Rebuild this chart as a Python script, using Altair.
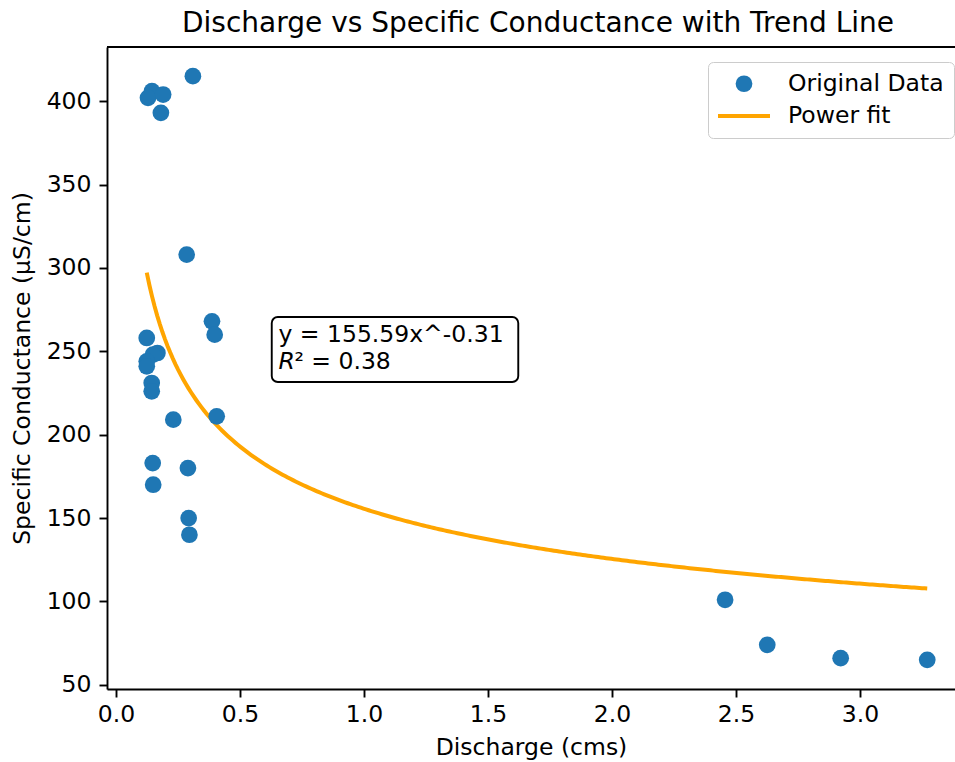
import altair as alt
import numpy as np
import pandas as pd

# ---- data ----
discharge = [0.310, 0.145, 0.129, 0.190, 0.181, 0.285, 0.387, 0.398, 0.124,
             0.167, 0.149, 0.124, 0.124, 0.144, 0.144, 0.231, 0.406, 0.148,
             0.290, 0.150, 0.293, 0.296, 2.456, 2.626, 2.922, 3.271]
conductance = [415, 406, 402, 404, 393, 308, 268, 260, 258,
               249, 248, 244, 241, 231, 226, 209, 211, 183,
               180, 170, 150, 140, 101, 74, 66, 65]
series_names = ["Original Data", "Power fit"]
fit_a = 155.59
fit_b = -0.31
r_squared = 0.38
x_ticks = [0.0, 0.5, 1.0, 1.5, 2.0, 2.5, 3.0]
y_ticks = [50, 100, 150, 200, 250, 300, 350, 400]

FONT = "DejaVu Sans"
W, H = 848, 642

pts = pd.DataFrame({"Discharge": discharge, "Conductance": conductance,
                    "series": series_names[0]})
xs = np.linspace(min(discharge), max(discharge), 300)
fit = pd.DataFrame({"Discharge": xs, "Conductance": fit_a * xs ** fit_b,
                    "series": series_names[1]})
ann_lines = pd.DataFrame({"Discharge": [0.655], "Conductance": [259.8],
                          "text": [f"y = {fit_a:.2f}x^{fit_b:.2f}"]})
ann_r = pd.DataFrame({"Discharge": [0.655], "Conductance": [243.6],
                      "r": ["R"], "rest": [f"\u00b2 = {r_squared:.2f}"]})
ann_box = pd.DataFrame({"x0": [0.628], "x1": [1.622], "y0": [231.6], "y1": [270.6]})

x_scale = alt.Scale(domain=[-0.0363, 3.383], nice=False, zero=False)
y_scale = alt.Scale(domain=[47.5, 432.5], nice=False, zero=False)

x_axis = alt.Axis(values=x_ticks, format=".1f", title="Discharge (cms)", grid=False,
                  tickSize=8, tickWidth=1.9, domainWidth=1.9, domainColor="black",
                  tickColor="black", labelColor="black", labelFontSize=23.5, labelFont=FONT,
                  labelPadding=5, titleFont=FONT, titleFontSize=23.5, titleFontWeight="normal",
                  titleColor="black", titlePadding=10, labelFlush=False)
y_axis = alt.Axis(values=y_ticks, format="d", title="Specific Conductance (\u00b5S/cm)",
                  grid=False, tickSize=8, tickWidth=1.9, domainWidth=1.9, domainColor="black",
                  tickColor="black", labelColor="black", labelFontSize=23.5, labelFont=FONT,
                  labelPadding=8, titleFont=FONT, titleFontSize=23.5, titleFontWeight="normal",
                  titleColor="black", titlePadding=12, labelFlush=False)

leg = alt.Legend(title=None, orient="none", legendX=601, legendY=15,
                 labelFont=FONT, labelFontSize=23.5, labelColor="black",
                 strokeColor="#cccccc", fillColor="white", cornerRadius=5, padding=10,
                 symbolStrokeWidth=4, symbolOpacity=1, symbolOffset=11, labelOffset=29,
                 rowPadding=-3)

color_range = ["#1f77b4", "#ffa500"]
legend_shapes = ["circle", "M-2,0L2,0"]

points = alt.Chart(pts).mark_point(filled=True, opacity=1, strokeWidth=0).encode(
    x=alt.X("Discharge:Q", scale=x_scale, axis=x_axis),
    y=alt.Y("Conductance:Q", scale=y_scale, axis=y_axis),
    fill=alt.Fill("series:N", scale=alt.Scale(domain=series_names, range=color_range), legend=leg),
    shape=alt.Shape("series:N", scale=alt.Scale(domain=series_names, range=legend_shapes), legend=leg),
    size=alt.Size("series:N", scale=alt.Scale(domain=series_names, range=[280, 676]), legend=leg),
)

line = alt.Chart(fit).mark_line(strokeWidth=4).encode(
    x=alt.X("Discharge:Q", scale=x_scale),
    y=alt.Y("Conductance:Q", scale=y_scale),
    stroke=alt.Stroke("series:N", scale=alt.Scale(domain=series_names, range=["transparent", "#ffa500"]), legend=leg),
    order="Discharge:Q",
)

box = alt.Chart(ann_box).mark_rect(fill="white", stroke="black", strokeWidth=1.9, cornerRadius=6).encode(
    x=alt.X("x0:Q", scale=x_scale), x2="x1:Q",
    y=alt.Y("y0:Q", scale=y_scale), y2="y1:Q",
)
ann1 = alt.Chart(ann_lines).mark_text(align="left", baseline="middle", font=FONT,
                                      fontSize=23.5, color="black").encode(
    x=alt.X("Discharge:Q", scale=x_scale), y=alt.Y("Conductance:Q", scale=y_scale), text="text:N")
ann2a = alt.Chart(ann_r).mark_text(align="left", baseline="middle", font=FONT, fontStyle="italic",
                                   fontSize=23.5, color="black").encode(
    x=alt.X("Discharge:Q", scale=x_scale), y=alt.Y("Conductance:Q", scale=y_scale), text="r:N")
ann2b = alt.Chart(ann_r).mark_text(align="left", baseline="middle", font=FONT, dx=16,
                                   fontSize=23.5, color="black").encode(
    x=alt.X("Discharge:Q", scale=x_scale), y=alt.Y("Conductance:Q", scale=y_scale), text="rest:N")

top_frame = alt.Chart(pts).mark_rule(color="black", strokeWidth=1.9).encode(
    x=alt.value(0), x2=alt.value(W), y=alt.value(0))

chart = alt.layer(top_frame, line, points, box, ann1, ann2a, ann2b).properties(
    width=W, height=H,
    title=alt.TitleParams("Discharge vs Specific Conductance with Trend Line", font=FONT,
                          fontSize=28, fontWeight="normal", color="black", anchor="middle",
                          dx=7, offset=8),
    autosize=alt.AutoSizeParams(type="none"),
    padding={"left": 107, "top": 47, "right": 0, "bottom": 73},
).configure_view(stroke=None).configure(background="white")

chart.save("out.html", embed_options={"renderer": "svg", "actions": False})
